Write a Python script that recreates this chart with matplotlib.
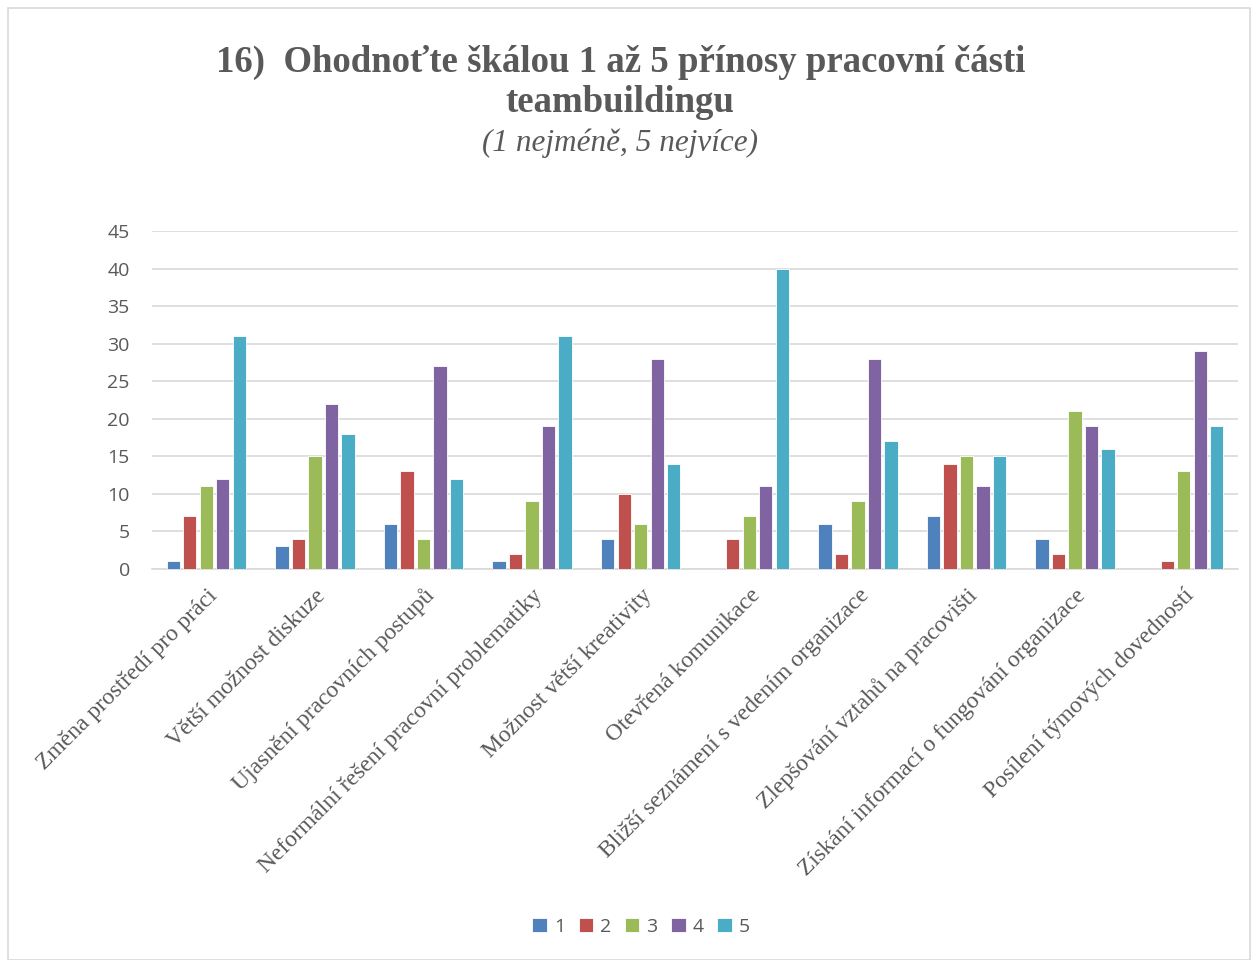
import numpy as np
import matplotlib
matplotlib.use("Agg")
import matplotlib.pyplot as plt
from matplotlib.patches import Rectangle

categories = [
    "Změna prostředí pro práci",
    "Větší možnost diskuze",
    "Ujasnění pracovních postupů",
    "Neformální řešení pracovní problematiky",
    "Možnost větší kreativity",
    "Otevřená komunikace",
    "Bližší seznámení s vedením organizace",
    "Zlepšování vztahů na pracovišti",
    "Získání informací o fungování organizace",
    "Posílení týmových dovedností",
]
series_names = ["1", "2", "3", "4", "5"]
s1 = [1, 3, 6, 1, 4, 0, 6, 7, 4, 0]
s2 = [7, 4, 13, 2, 10, 4, 2, 14, 2, 1]
s3 = [11, 15, 4, 9, 6, 7, 9, 15, 21, 13]
s4 = [12, 22, 27, 19, 28, 11, 28, 11, 19, 29]
s5 = [31, 18, 12, 31, 14, 40, 17, 15, 16, 19]
colors = ["#4F81BD", "#C0504D", "#9BBB59", "#8064A2", "#4BACC6"]

fig = plt.figure(figsize=(12.58, 9.6), dpi=100)
ax = fig.add_axes([152 / 1258, 1 - 569 / 960, (1238 - 152) / 1258, (569 - 231) / 960])

x = np.arange(len(categories))
slot = 0.152
width = 0.122
for i, (vals, c) in enumerate(zip([s1, s2, s3, s4, s5], colors)):
    ax.bar(x + (i - 2) * slot, vals, width, color=c, label=series_names[i],
           edgecolor="white", linewidth=0.6, zorder=3)

ax.set_xlim(-0.5, len(categories) - 0.5)
ax.set_ylim(0, 45)
ax.set_yticks(range(0, 46, 5))
ax.yaxis.grid(True, color="#D9D9D9", linewidth=1.2, zorder=0)
for sp in ["top", "right", "left"]:
    ax.spines[sp].set_visible(False)
ax.spines["bottom"].set_color("#D9D9D9")
ax.spines["bottom"].set_linewidth(1.2)
ax.tick_params(axis="y", length=0, pad=16, labelsize=14, labelcolor="#595959")
ax.tick_params(axis="x", length=0, pad=17)
for lab in ax.get_yticklabels():
    lab.set_fontfamily("Open Sans")

ax.set_xticks(x + 0.07)
ax.set_xticklabels(categories, rotation=45, ha="right", va="center",
                   rotation_mode="anchor", fontsize=17, color="#595959",
                   family="Liberation Serif")

fig.text(0.493, 1 - 62 / 960, "16)  Ohodnoťte škálou 1 až 5 přínosy pracovní části",
         ha="center", va="center", fontsize=26.5, fontweight="bold",
         family="Liberation Serif", color="#595959")
fig.text(0.493, 1 - 103 / 960, "teambuildingu", ha="center", va="center",
         fontsize=26.5, fontweight="bold", family="Liberation Serif", color="#595959")
fig.text(0.493, 1 - 143 / 960, "(1 nejméně, 5 nejvíce)", ha="center", va="center",
         fontsize=22.5, fontstyle="italic", family="Liberation Serif", color="#595959")

leg = fig.legend(loc="center", bbox_to_anchor=(641 / 1258, 1 - 927 / 960), ncol=5,
                 frameon=False, handlelength=0.75, handleheight=0.75, handletextpad=0.35,
                 columnspacing=0.7, prop={"family": "Open Sans", "size": 14})
for t in leg.get_texts():
    t.set_color("#595959")

fig.patches.append(Rectangle((8 / 1258, 0), 1 - 16 / 1258, 1 - 8 / 960,
                             transform=fig.transFigure, fill=False,
                             edgecolor="#D9D9D9", linewidth=1.2))

fig.savefig("out.png", dpi=100)
